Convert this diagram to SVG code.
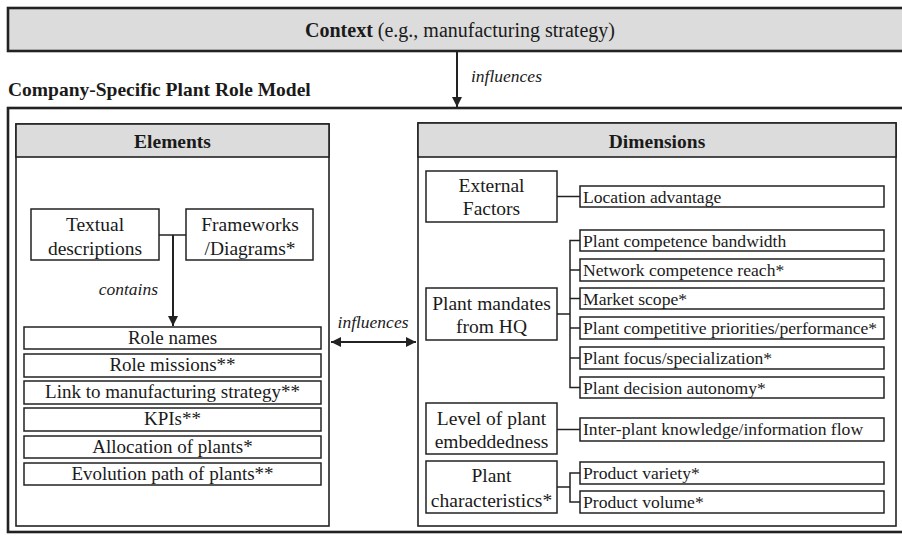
<svg xmlns="http://www.w3.org/2000/svg" width="902" height="536" viewBox="0 0 902 536">
<style>
text{font-family:"Liberation Serif","Times New Roman",serif;fill:#1a1a1a}
.big{fill:#dcdcdc;stroke:#222;stroke-width:2.6}
.outer{fill:none;stroke:#222;stroke-width:2.6}
.panel{fill:#fff;stroke:#222;stroke-width:1.6}
.hdr{fill:#dcdcdc;stroke:#222;stroke-width:1.6}
.box{fill:#fff;stroke:#222;stroke-width:1.5}
.ln{fill:none;stroke:#222;stroke-width:1.5}
.arr{fill:none;stroke:#222;stroke-width:2}
.lbl{font-size:19.5px;text-anchor:middle}
.lst{font-size:19px;text-anchor:middle}
.sub{font-size:17.6px}
.it{font-size:17.5px;font-style:italic}
.b{font-weight:bold}
</style>
<defs>
<marker id="ah" viewBox="0 0 10 10" refX="10" refY="5" markerWidth="5" markerHeight="5" orient="auto-start-reverse" markerUnits="strokeWidth">
<path d="M0,0 L10,5 L0,10 z" fill="#222"/>
</marker>
</defs>

<g id="context">
<rect class="big" x="8" y="8" width="904" height="43"/>
<text x="460" y="37" style="font-size:20px" text-anchor="middle"><tspan class="b">Context</tspan> (e.g., manufacturing strategy)</text>
</g>

<g id="model">
<text class="b" x="8" y="96" style="font-size:19.5px">Company-Specific Plant Role Model</text>
<rect class="outer" x="8" y="108" width="904" height="424"/>
</g>

<g id="elements">
<rect class="panel" x="16" y="124" width="313" height="402"/>
<rect class="hdr" x="16" y="124" width="313" height="33"/>
<text class="lbl b" x="172.5" y="148">Elements</text>
</g>

<g id="textual">
<rect class="box" x="31" y="209" width="128" height="51"/>
<text class="lbl" x="95" y="230.5">Textual</text>
<text class="lbl" x="95" y="254.5">descriptions</text>
</g>
<g id="frameworks">
<rect class="box" x="186" y="209" width="127" height="51"/>
<text class="lbl" x="250" y="230.5">Frameworks</text>
<text class="lbl" x="250" y="254.5">/Diagrams*</text>
</g>

<g id="list">
<g id="role-names"><rect class="box" x="24" y="327" width="297" height="22"/><text class="lst" x="172.5" y="344">Role names</text></g>
<g id="role-missions"><rect class="box" x="24" y="354" width="297" height="23"/><text class="lst" x="172.5" y="371">Role missions**</text></g>
<g id="link"><rect class="box" x="24" y="381" width="297" height="23"/><text class="lst" x="172.5" y="398">Link to manufacturing strategy**</text></g>
<g id="kpis"><rect class="box" x="24" y="408" width="297" height="23"/><text class="lst" x="172.5" y="425">KPIs**</text></g>
<g id="allocation"><rect class="box" x="24" y="436" width="297" height="22"/><text class="lst" x="172.5" y="453">Allocation of plants*</text></g>
<g id="evolution"><rect class="box" x="24" y="463" width="297" height="22"/><text class="lst" x="172.5" y="480">Evolution path of plants**</text></g>
</g>

<g id="dimensions">
<rect class="panel" x="418" y="123" width="478" height="403"/>
<rect class="hdr" x="418" y="123" width="478" height="34"/>
<text class="lbl b" x="657" y="148">Dimensions</text>
</g>

<g id="external">
<rect class="box" x="426" y="171" width="131" height="51"/>
<text class="lbl" x="491.5" y="192">External</text>
<text class="lbl" x="491.5" y="215">Factors</text>
</g>
<g id="location"><rect class="box" x="580" y="186" width="304" height="21"/><text class="sub" x="583" y="202.5">Location advantage</text></g>

<g id="mandates">
<rect class="box" x="426" y="288" width="131" height="52"/>
<text class="lbl" x="491.5" y="309.5">Plant mandates</text>
<text class="lbl" x="491.5" y="333">from HQ</text>
</g>
<g id="bandwidth"><rect class="box" x="580" y="230" width="304" height="21"/><text class="sub" x="583" y="246.5">Plant competence bandwidth</text></g>
<g id="reach"><rect class="box" x="580" y="259" width="304" height="22"/><text class="sub" x="583" y="276">Network competence reach*</text></g>
<g id="market"><rect class="box" x="580" y="288" width="304" height="21"/><text class="sub" x="583" y="304.5">Market scope*</text></g>
<g id="priorities"><rect class="box" x="580" y="317" width="304" height="22"/><text class="sub" x="583" y="334">Plant competitive priorities/performance*</text></g>
<g id="focus"><rect class="box" x="580" y="347" width="304" height="22"/><text class="sub" x="583" y="364">Plant focus/specialization*</text></g>
<g id="autonomy"><rect class="box" x="580" y="377" width="304" height="21"/><text class="sub" x="583" y="393.5">Plant decision autonomy*</text></g>

<g id="embeddedness">
<rect class="box" x="426" y="403" width="131" height="51"/>
<text class="lbl" x="491.5" y="425">Level of plant</text>
<text class="lbl" x="491.5" y="448">embeddedness</text>
</g>
<g id="flow"><rect class="box" x="580" y="418" width="304" height="23"/><text class="sub" x="583" y="435">Inter-plant knowledge/information flow</text></g>

<g id="characteristics">
<rect class="box" x="426" y="461" width="131" height="52"/>
<text class="lbl" x="491.5" y="482">Plant</text>
<text class="lbl" x="491.5" y="507">characteristics*</text>
</g>
<g id="variety"><rect class="box" x="580" y="462" width="304" height="22"/><text class="sub" x="583" y="479">Product variety*</text></g>
<g id="volume"><rect class="box" x="580" y="491" width="304" height="22"/><text class="sub" x="583" y="508">Product volume*</text></g>

<g id="connectors">
<line class="arr" x1="457" y1="51" x2="457" y2="107" marker-end="url(#ah)"/>
<text class="it" x="471" y="82">influences</text>
<path class="ln" d="M159,235 H186"/>
<line class="arr" x1="173" y1="235" x2="173" y2="326" marker-end="url(#ah)"/>
<text class="it" x="158" y="295" text-anchor="end">contains</text>
<line class="arr" x1="331" y1="342" x2="416" y2="342" marker-start="url(#ah)" marker-end="url(#ah)"/>
<text class="it" x="373" y="328" text-anchor="middle">influences</text>
<path class="ln" d="M557,196.5 H580"/>
<path class="ln" d="M557,314 H570 M580,240.5 H570 V387.5 H580 M570,270 H580 M570,298.5 H580 M570,328 H580 M570,358 H580"/>
<path class="ln" d="M557,429.5 H580"/>
<path class="ln" d="M557,487 H570 M580,473 H570 V502 H580"/>
</g>
</svg>
